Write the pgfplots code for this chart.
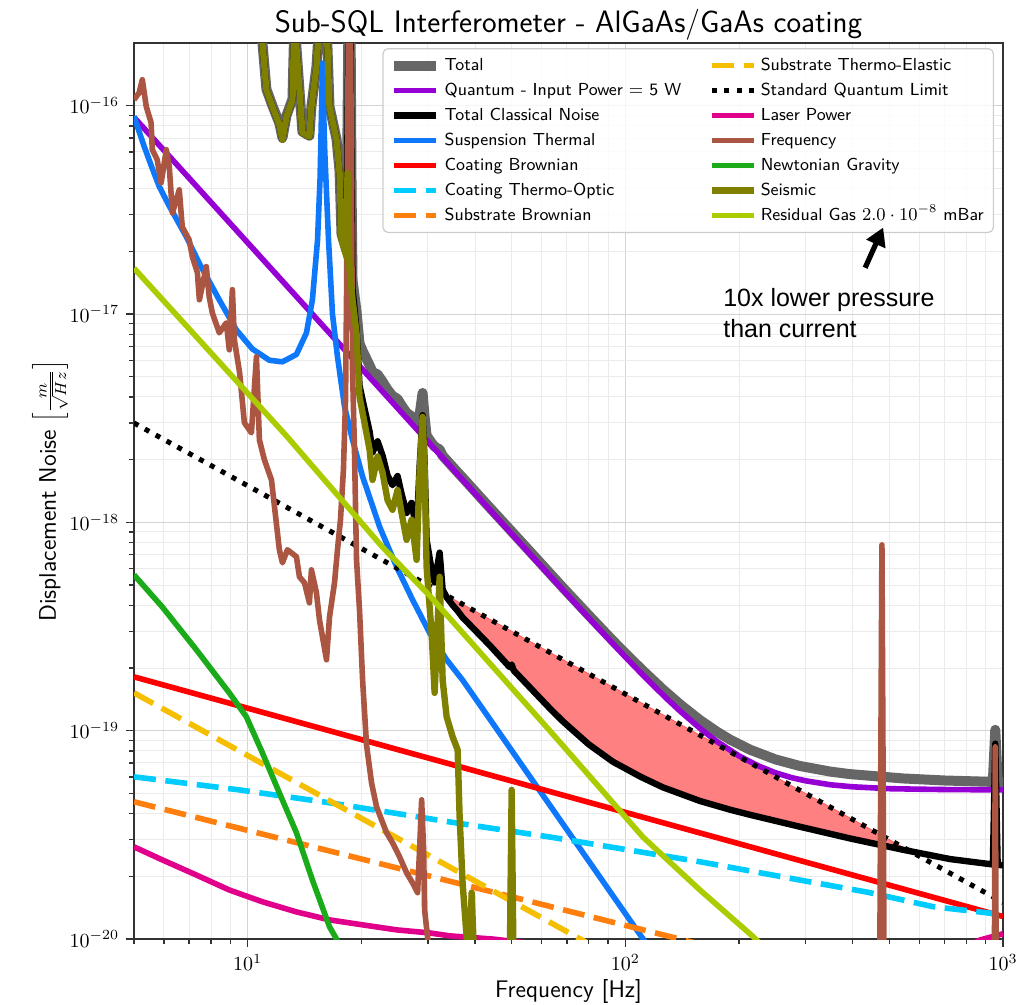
\documentclass[border=0pt]{standalone}
\usepackage{fontspec}
\newfontfamily\arialfont{Liberation Sans}
\usepackage{pgfplots}
\pgfplotsset{compat=1.18}
\usetikzlibrary{arrows.meta,calc}
\definecolor{cTotal}{RGB}{102,102,102}
\definecolor{cQuant}{RGB}{150,0,212}
\definecolor{cSus}{RGB}{15,120,250}
\definecolor{cCB}{RGB}{255,0,0}
\definecolor{cCTO}{RGB}{0,204,255}
\definecolor{cSB}{RGB}{255,127,14}
\definecolor{cSTE}{RGB}{245,190,0}
\definecolor{cLaser}{RGB}{225,0,140}
\definecolor{cFreq}{RGB}{170,86,66}
\definecolor{cNewt}{RGB}{26,170,26}
\definecolor{cSeis}{RGB}{128,128,0}
\definecolor{cGas}{RGB}{170,204,0}
\definecolor{cFill}{RGB}{255,128,128}
\begin{document}
\begin{tikzpicture}
\begin{axis}[name=ax,
  xmode=log, ymode=log,
  scale only axis, width=434.5pt, height=448pt,
  xmin=5, xmax=1000, ymin=1e-20, ymax=2e-16,
  axis line style={black!80, line width=0.9pt},
  grid=both,
  major grid style={black!17, line width=0.5pt},
  minor grid style={black!8, line width=0.5pt},
  tick align=outside, tick pos=left,
  major tick length=4pt, minor tick length=2.5pt,
  every tick/.style={black!80, line width=0.7pt},
  tick label style={font=\fontsize{10}{12}\selectfont},
  title={Sub-SQL Interferometer - AlGaAs/GaAs coating},
  title style={at={(axis description cs:0.5,1)}, anchor=base, yshift=-0.6pt, font=\sffamily\fontsize{15.5}{18}\selectfont},
  xlabel={Frequency [Hz]},
  xlabel style={at={(axis description cs:0.5,0)}, anchor=base, yshift=-29pt, font=\sffamily\fontsize{12}{14}\selectfont},
  ylabel={Displacement Noise $\left[\frac{m}{\sqrt{Hz}}\right]$},
  ylabel style={at={(axis description cs:-0.0898,0.5)}, anchor=base, font=\sffamily\fontsize{12}{14}\selectfont},
  every axis plot/.append style={line join=round},
  legend style={at={(0.9896,0.9944)}, anchor=north east, draw=black!20, line width=0.6pt,
    rounded corners=2.5pt, fill=white, fill opacity=0.8, text opacity=1,
    font=\sffamily\fontsize{8.7}{10}\selectfont, inner xsep=3pt, inner ysep=2.5pt, row sep=0.6pt,
    nodes={inner sep=1.8pt, text height=6.5pt, text depth=1.8pt},
    /tikz/every even column/.append style={column sep=12pt}},
  legend cell align=left, legend columns=7, transpose legend,
  legend image code/.code={\draw[#1] (0pt,0pt) -- (21pt,0pt);},
]
% shaded region: classical noise below SQL
\addplot[fill=cFill, draw=cFill!70!red, line width=0.4pt, forget plot] coordinates {
(32.83,4.57e-19) (548,2.737e-20) (545,2.68e-20) (393.8,3.04e-20) (290,3.46e-20) (213.8,3.95e-20)
(189.2,4.18e-20) (157.6,4.6e-20) (125.7,5.35e-20) (110,6.0e-20) (92.7,7.1e-20) (80,8.6e-20)
(68.3,1.11e-19) (63.1,1.28e-19) (50.3,1.98e-19) (43.74,2.57e-19) (37.08,3.5e-19) (32.83,4.57e-19)};
% Total
\addplot[cTotal, line width=5pt] coordinates {
(10.0,5e-16) (10.6,2.61e-16) (10.94,2.01e-16) (11.21,1.2e-16) (11.63,1.0e-16) (12.13,8.24e-17)
(12.36,7.02e-17) (12.67,8.97e-17) (13.14,1.077e-16) (13.30,2.6e-16) (13.71,1.196e-16) (13.96,7.51e-17)
(14.57,7.18e-17) (14.75,9.94e-17) (15.21,1.54e-16) (15.49,2.6e-16) (16.17,2.6e-16) (16.47,9.92e-17)
(17.19,6.91e-17) (17.51,4.85e-17) (17.72,2.42e-17) (18.27,2.02e-17) (18.38,7.83e-17) (18.49,2.6e-16)
(18.72,2.6e-16) (18.84,3.85e-17) (18.95,1.455e-17) (19.42,1.029e-17) (19.78,7.22e-18) (20.15,6.66e-18)
(21.03,5.67e-18) (21.41,5.27e-18) (22.08,5.13e-18) (22.76,4.74e-18) (23.46,4.34e-18) (24.18,4.05e-18)
(24.94,3.91e-18) (25.56,3.64e-18) (26.35,3.36e-18) (27.16,3.23e-18) (28.01,2.95e-18) (28.52,3.27e-18)
(29.05,4.18e-18) (29.41,3.2e-18) (29.77,2.61e-18) (30.69,2.41e-18) (31.26,2.31e-18) (32.23,2.24e-18)
(32.83,2.09e-18) (33.64,1.99e-18) (34.89,1.85e-18) (35.97,1.74e-18) (37.08,1.64e-18) (43.74,1.178e-18)
(50.3,8.94e-19) (63.1,5.7e-19) (68.3,4.87e-19) (80,3.585e-19) (92.7,2.705e-19) (100,2.354e-19)
(110,1.984e-19) (125.7,1.579e-19) (140,1.333e-19) (157.6,1.125e-19) (175,9.88e-20) (189.2,9.07e-20)
(213.8,8.11e-20) (250,7.28e-20) (290,6.77e-20) (350,6.36e-20) (393.8,6.19e-20) (545,5.9e-20)
(700,5.77e-20) (940,5.68e-20) (954,1.01e-19) (968,5.67e-20) (1000,5.67e-20)};
\addlegendentry{Total}
% Quantum
\addplot[cQuant, line width=2.8pt] coordinates {
(5,8.8e-17) (10,2.2e-17) (20,5.5e-18) (40,1.376e-18) (60,6.13e-19) (80,3.48e-19) (100,2.26e-19)
(110,1.891e-19) (120,1.614e-19) (130,1.402e-19) (140,1.237e-19) (160,1.004e-19) (175,8.87e-20)
(200,7.57e-20) (225,6.78e-20) (250,6.28e-20) (275,5.96e-20) (300,5.75e-20) (350,5.5e-20)
(400,5.38e-20) (500,5.27e-20) (600,5.24e-20) (700,5.22e-20) (1000,5.2e-20)};
\addlegendentry{Quantum - Input Power $=$ 5 W}
% Total classical
\addplot[black, line width=3.2pt] coordinates {
(10.0,5e-16) (10.6,2.6e-16) (10.94,2.0e-16) (11.21,1.19e-16) (11.63,9.9e-17) (12.13,8.1e-17)
(12.36,6.87e-17) (12.67,8.86e-17) (13.14,1.07e-16) (13.30,2.6e-16) (13.71,1.19e-16) (13.96,7.42e-17)
(14.57,7.1e-17) (14.75,9.89e-17) (15.21,1.54e-16) (15.49,2.6e-16) (16.17,2.6e-16) (16.47,9.89e-17)
(17.19,6.9e-17) (17.51,4.8e-17) (17.72,2.32e-17) (18.27,1.91e-17) (18.38,7.8e-17) (18.49,2.6e-16)
(18.72,2.6e-16) (18.84,3.8e-17) (18.95,1.32e-17) (19.42,8.48e-18) (19.78,4.54e-18) (20.15,3.87e-18)
(21.03,2.73e-18) (21.41,2.17e-18) (22.08,2.45e-18) (22.76,2.09e-18) (23.46,1.68e-18) (24.18,1.51e-18)
(24.94,1.67e-18) (25.56,1.37e-18) (26.35,1.11e-18) (27.16,1.24e-18) (28.01,9.16e-19) (28.52,1.84e-18)
(29.05,3.27e-18) (29.41,1.94e-18) (29.77,8.26e-19) (30.69,5.92e-19) (31.26,5.15e-19) (32.23,7.16e-19)
(32.83,4.76e-19) (33.64,4.37e-19) (34.89,4.01e-19) (35.97,3.76e-19) (37.08,3.5e-19) (43.74,2.57e-19)
(49.4,2.02e-19) (50.0,2.08e-19) (50.6,1.95e-19) (63.1,1.28e-19) (68.3,1.11e-19) (80,8.6e-20)
(92.7,7.1e-20) (110,6.0e-20) (125.7,5.35e-20) (157.6,4.6e-20) (189.2,4.18e-20) (213.8,3.95e-20)
(290,3.46e-20) (393.8,3.04e-20) (545,2.68e-20) (725,2.42e-20) (940,2.28e-20) (954,8.67e-20)
(968,2.27e-20) (1000,2.26e-20)};
\addlegendentry{Total Classical Noise}
% Suspension thermal
\addplot[cSus, line width=2.8pt] coordinates {
(5.0,8.9e-17) (5.3,6.5e-17) (5.59,5.0e-17) (5.83,4.1e-17) (6.2,3.3e-17) (6.88,2.35e-17) (7.45,1.75e-17)
(8.41,1.17e-17) (9.33,8.4e-18) (10.29,6.8e-18) (11.42,6.0e-18) (12.36,5.9e-18) (13.46,6.4e-18)
(14.31,8.13e-18) (14.84,1.171e-17) (15.31,2.27e-17) (15.55,4.5e-17) (15.68,9e-17) (15.78,1.6e-16)
(15.9,9e-17) (16.0,6e-17) (16.37,2.27e-17) (16.77,1.0e-17) (17.29,6.24e-18) (18.05,3.6e-18)
(18.95,2.49e-18) (20.15,1.66e-18) (22.35,9.53e-19) (24.79,6.12e-19) (27.33,4.25e-19) (30.32,2.95e-19)
(33.64,2.19e-19) (37.08,1.75e-19) (72.6,3.05e-20) (130,6.7e-21)};
\addlegendentry{Suspension Thermal}
% Coating Brownian
\addplot[cCB, line width=2.8pt] coordinates {(5,1.814e-19) (1000,1.283e-20)};
\addlegendentry{Coating Brownian}
% Coating thermo-optic
\addplot[cCTO, line width=2.8pt, dash pattern=on 11pt off 4.8pt] coordinates {
(5.0,6.01e-20) (9.5,5.2e-20) (16.47,4.51e-20) (34.26,3.65e-20) (63.1,3.09e-20) (157.6,2.35e-20)
(290,1.92e-20) (436.8,1.68e-20) (653.5,1.43e-20) (1000,1.31e-20)};
\addlegendentry{Coating Thermo-Optic}
% Substrate Brownian
\addplot[cSB, line width=2.8pt, dash pattern=on 11pt off 4.8pt] coordinates {
(5.0,4.56e-20) (250,7.66e-21)};
\addlegendentry{Substrate Brownian}
% Substrate thermo-elastic
\addplot[cSTE, line width=2.8pt, dash pattern=on 11pt off 4.8pt] coordinates {
(5.0,1.52e-19) (100,7.6e-21)};
\addlegendentry{Substrate Thermo-Elastic}
% SQL
\addplot[black, line width=2.5pt, dash pattern=on 2.5pt off 3.7pt] coordinates {
(5,3.0e-18) (1000,1.5e-20)};
\addlegendentry{Standard Quantum Limit}
% Laser power
\addplot[cLaser, line width=2.8pt] coordinates {
(5.0,2.77e-20) (5.94,2.40e-20) (7.31,2.03e-20) (8.94,1.72e-20) (10.94,1.51e-20) (13.46,1.35e-20)
(16.47,1.236e-20) (20.15,1.17e-20) (24.79,1.107e-20) (30.32,1.07e-20) (34.26,1.036e-20) (44.5,1.0e-20)
(100,8.5e-21) (300,7e-21) (600,7.5e-21) (800,9.2e-21) (870,9.9e-21) (1000,1.06e-20)};
\addlegendentry{Laser Power}
% Frequency
\addplot[cFreq, line width=2.8pt] coordinates {
(5.0,1.07e-16) (5.16,1.155e-16) (5.26,1.333e-16) (5.39,9.89e-17) (5.55,8.29e-17) (5.59,6.15e-17)
(5.76,5.51e-17) (5.90,4.27e-17) (6.09,6.15e-17) (6.20,5.10e-17) (6.32,3.06e-17) (6.59,3.95e-17)
(6.71,2.62e-17) (7.0,2.27e-17) (7.14,1.88e-17) (7.36,1.58e-17) (7.45,1.171e-17) (7.77,1.69e-17)
(7.91,1.21e-17) (8.06,1.014e-17) (8.41,8.13e-18) (8.78,9.08e-18) (8.94,6.74e-18) (9.11,1.31e-17)
(9.22,7.52e-18) (9.52,5.23e-18) (9.80,3.01e-18) (10.23,2.69e-18) (10.55,6.24e-18) (10.74,2.49e-18)
(11.07,2.0e-18) (11.56,1.6e-18) (12.13,7.39e-19) (12.36,6.4e-19) (12.74,7.39e-19) (13.46,6.84e-19)
(13.71,5.48e-19) (14.14,5.13e-19) (14.57,4.11e-19) (14.75,5.92e-19) (15.21,4.59e-19) (15.49,3.41e-19)
(15.78,2.82e-19) (16.17,2.19e-19) (16.47,3.52e-19) (16.98,5.13e-19) (17.29,7.39e-19) (17.61,1.03e-18)
(17.93,1.79e-18) (18.16,3.88e-18) (18.27,1.171e-17) (18.38,6.15e-17) (18.49,2.6e-16) (18.72,2.6e-16)
(18.84,3.54e-17) (18.95,5.4e-18) (19.18,2.23e-18) (19.42,6.61e-19) (19.78,3.8e-19) (20.15,1.75e-19)
(20.64,8.55e-20) (21.28,5.62e-20) (21.94,4.31e-20) (23.32,3.24e-20) (24.18,2.9e-20) (25.25,2.48e-20)
(26.35,2.08e-20) (27.33,1.86e-20) (28.18,1.67e-20) (28.52,2.68e-20) (28.88,4.66e-20) (29.23,2.68e-20)
(29.41,1.38e-20) (29.95,1.02e-20) (30.5,8e-21) (40,3e-21) (100,2e-21) (470,2e-21) (478,7.8e-19)
(486,2e-21) (946,2e-21) (954,8.37e-20) (962,2e-21) (1000,2e-21)};
\addlegendentry{Frequency}
% Newtonian gravity
\addplot[cNewt, line width=2.8pt] coordinates {
(5.0,5.6e-19) (5.94,3.93e-19) (7.31,2.45e-19) (8.94,1.52e-19) (9.92,1.166e-19) (10.94,7.83e-20)
(12.13,5.03e-20) (13.46,3.24e-20) (14.84,1.92e-20) (16.47,1.145e-20) (17.19,1.0e-20) (18.5,7e-21)};
\addlegendentry{Newtonian Gravity}
% Seismic
\addplot[cSeis, line width=3.2pt] coordinates {
(10.0,5e-16) (10.6,2.6e-16) (10.94,2.0e-16) (11.21,1.19e-16) (11.63,9.9e-17) (12.13,8.1e-17)
(12.36,6.87e-17) (12.67,8.86e-17) (13.14,1.07e-16) (13.30,2.6e-16) (13.71,1.19e-16) (13.96,7.42e-17)
(14.57,7.1e-17) (14.75,9.89e-17) (15.21,1.54e-16) (15.49,2.6e-16) (16.17,2.6e-16) (16.47,9.89e-17)
(17.19,6.87e-17) (17.51,4.77e-17) (17.72,2.27e-17) (18.27,1.88e-17) (18.38,4.77e-17) (18.60,1.69e-17)
(18.95,1.171e-17) (19.42,8.13e-18) (19.78,4.01e-18) (20.15,3.36e-18) (21.03,2.23e-18) (21.41,1.60e-18)
(22.08,2.07e-18) (22.76,1.73e-18) (23.46,1.28e-18) (24.18,1.15e-18) (24.94,1.43e-18) (25.56,1.11e-18)
(26.35,8.25e-19) (27.16,1.03e-18) (28.01,6.61e-19) (28.52,1.73e-18) (29.05,3.21e-18) (29.41,1.85e-18)
(29.77,6.12e-19) (30.69,2.95e-19) (31.26,1.52e-19) (32.23,5.48e-19) (32.83,1.75e-19) (33.64,1.166e-19)
(34.89,9.35e-20) (35.97,8.1e-20) (36.41,3.86e-20) (37.08,1.86e-20) (38.0,1.02e-20) (38.7,8e-21)
(39.19,1.67e-20) (39.9,7e-21) (49.4,7e-21) (50.0,5.2e-20) (50.6,7e-21) (60,5e-21)};
\addlegendentry{Seismic}
% Residual gas
\addplot[cGas, line width=2.8pt] coordinates {
(5,1.66e-17) (12.67,2.6e-18) (22.76,7.6e-19) (30.32,4.45e-19) (63.1,1.0e-19) (111.3,3.09e-20)
(157.6,1.72e-20) (217.6,1.03e-20) (260,7.5e-21)};
\addlegendentry{Residual Gas $2.0\cdot10^{-8}$ mBar}
% annotation anchors
\coordinate (arrS) at (axis cs:431.5,1.668e-17);
\coordinate (arrE) at (axis cs:481.6,2.6e-17);
\coordinate (txtA) at (axis cs:181.3,1.084e-17);
\coordinate (txtB) at (axis cs:181.3,7.69e-18);
\end{axis}
\draw[-{Triangle[length=9pt,width=10pt]}, line width=2.6pt] (arrS) -- (arrE);
\node[anchor=base west, inner sep=0pt, font=\arialfont\fontsize{12.5}{15}\selectfont] at (txtA) {10x lower pressure};
\node[anchor=base west, inner sep=0pt, font=\arialfont\fontsize{12.5}{15}\selectfont] at (txtB) {than current};
\pgfresetboundingbox
\path ($(ax.south west)+(-67pt,-32.5pt)$) rectangle ($(ax.north east)+(8pt,21.5pt)$);
\end{tikzpicture}
\end{document}
